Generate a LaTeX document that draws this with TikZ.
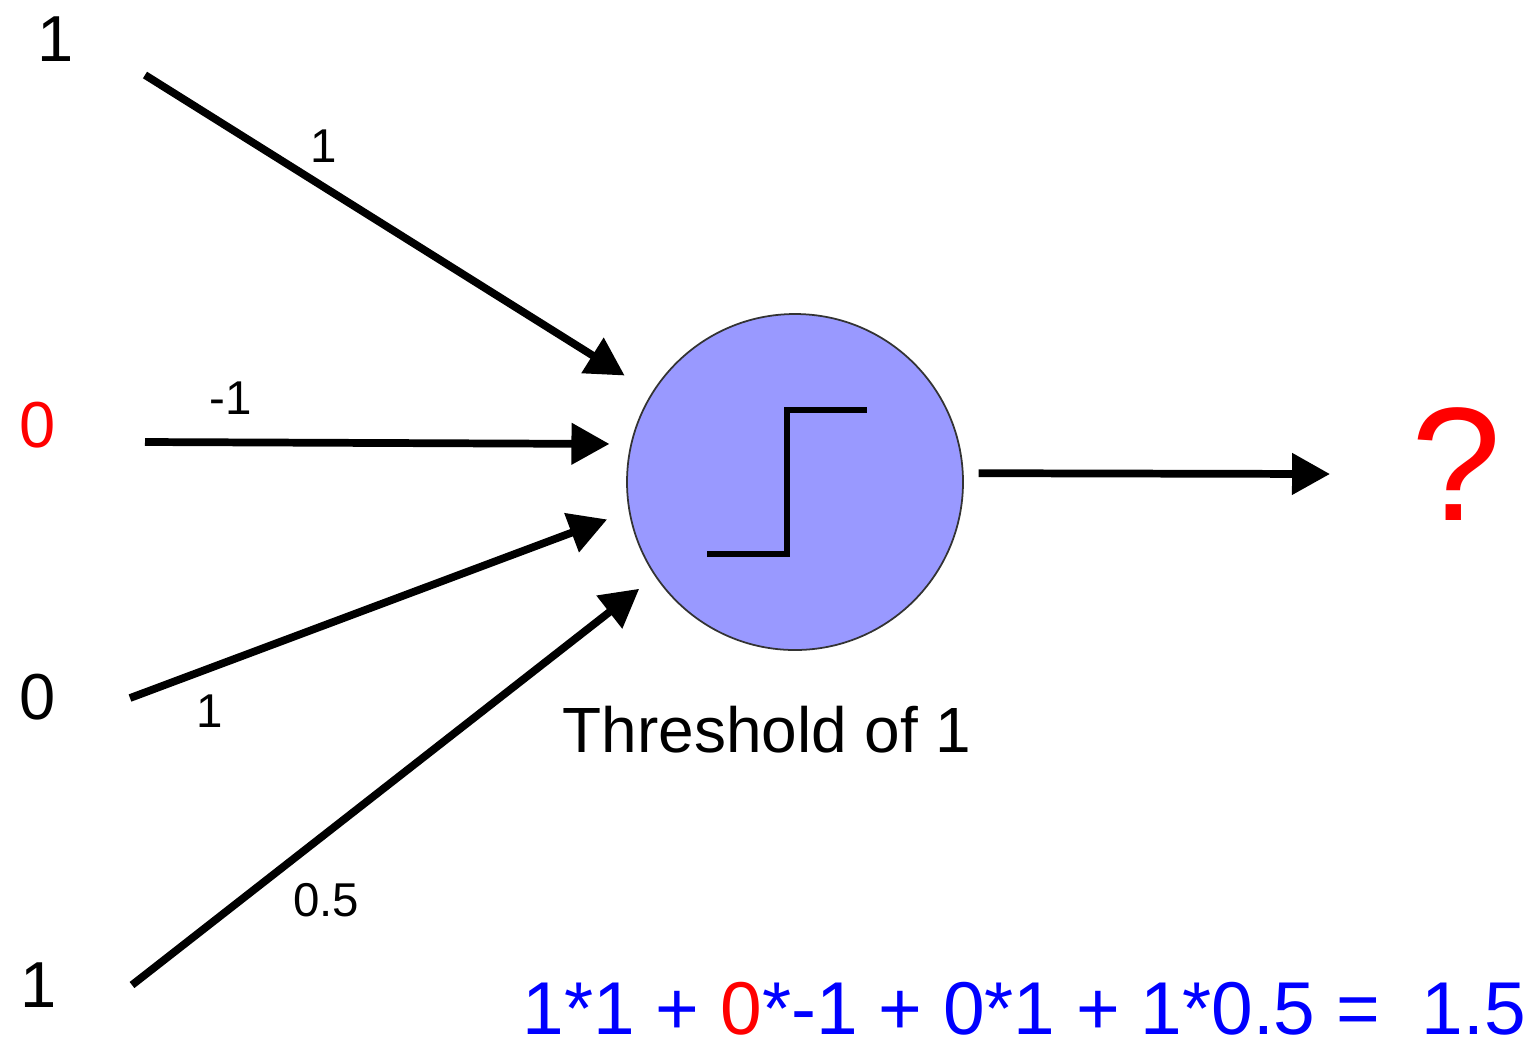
\documentclass[tikz,border=0pt]{standalone}
\usepackage{fontspec}
\setmainfont{Liberation Sans}
\usetikzlibrary{arrows.meta,positioning}
\definecolor{unitblue}{RGB}{153,153,255}
\definecolor{sumblue}{RGB}{0,0,255}

\begin{document}
\begin{tikzpicture}[
  inp/.style={font=\fontsize{18.5}{22}\selectfont,inner sep=0pt},
  wt/.style={font=\fontsize{13.5}{16}\selectfont,inner sep=1pt},
  wire/.style={-{Triangle[length=3.8mm,width=4mm]},line width=2.2pt},
  unit/.style={circle,draw=black!80,line width=0.5pt,fill=unitblue,
               minimum size=3.36cm,inner sep=0pt},
  stepline/.style={line width=1.6pt},
  thrlbl/.style={font=\fontsize{18.2}{22}\selectfont,inner sep=0pt},
  qm/.style={font=\fontsize{46}{50}\selectfont,text=red,inner sep=0pt},
  eqn/.style={font=\fontsize{21.3}{25}\selectfont,text=sumblue,inner sep=0pt}
]
\useasboundingbox (0,0) rectangle (15.25,-10.44);

% inputs
\node[inp] (in1) at (0.555,-0.39) {1};
\node[inp,text=red] (in2) at (0.375,-4.25) {0};
\node[inp] (in3) at (0.375,-6.97) {0};
\node[inp] (in4) at (0.385,-9.85) {1};

\coordinate (s1) at (1.45,-0.75);
\coordinate (s2) at (1.45,-4.42);
\coordinate (s3) at (1.30,-6.98);
\coordinate (s4) at (1.32,-9.85);

% threshold unit
\node[unit] (neuron) at (7.95,-4.82) {};
\draw[stepline] (neuron.center) ++(-0.88,-0.72) -| ++(0.8,1.44) -- ++(0.8,0);
\node[thrlbl,anchor=base] (thr) at (7.67,-7.52) {Threshold of 1};

% weighted connections
\draw[wire,shorten >=3.2mm] (s1) -- (neuron.148)
    node[wt,pos=0.353,above=1.75mm]{1};
\draw[wire,shorten >=2.1mm] (s2) -- (neuron.167)
    node[wt,pos=0.177,above=2mm]{-1};
\draw[wire,shorten >=2.3mm] (s3) -- (neuron.190)
    node[wt,pos=0.16,below=1.95mm]{1};
\draw[wire,shorten >=2mm] (s4) -- (neuron.214)
    node[wt,pos=0.371,below=4.3mm]{0.5};

% output
\coordinate (out) at (13.30,-4.74);
\draw[wire,shorten <=1.5mm] (neuron.3) -- (out);
\node[qm,anchor=base] (ans) at (14.56,-5.20) {?};

\node[eqn,anchor=base west] (sum) at (5.22,-10.34)
    {1*1 + \textcolor{red}{0}*-1 + 0*1 + 1*0.5 =\ \ 1.5};
\end{tikzpicture}
\end{document}
